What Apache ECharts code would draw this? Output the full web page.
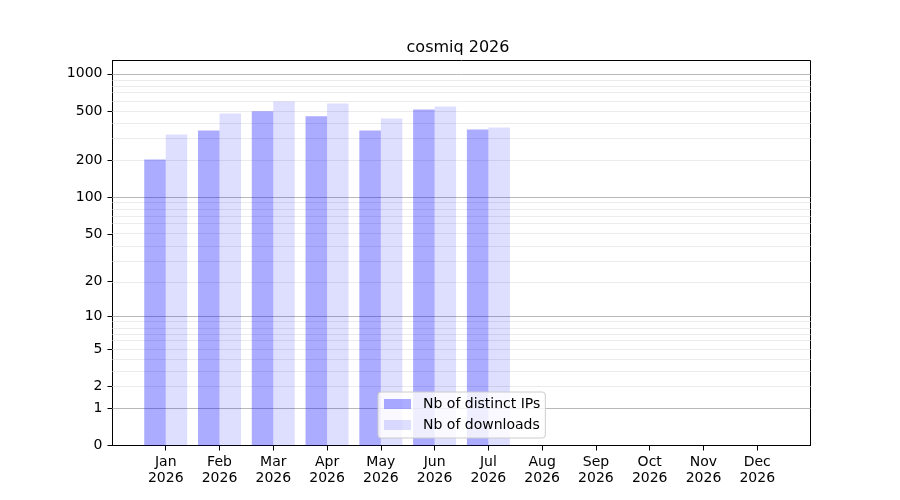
<!DOCTYPE html>
<html>
<head>
<meta charset="utf-8">
<script src="https://cdn.jsdelivr.net/npm/echarts@6/dist/echarts.min.js"></script>
<style>
  html, body { margin: 0; padding: 0; background: #fff; }
  #chart { width: 900px; height: 500px; }
</style>
</head>
<body>
<div id="chart"></div>
<script>
var months = ["Jan", "Feb", "Mar", "Apr", "May", "Jun", "Jul", "Aug", "Sep", "Oct", "Nov", "Dec"];
var year = "2026";
var distinctIps = [202, 348, 498, 454, 348, 514, 354, 0, 0, 0, 0, 0];
var downloads = [323, 477, 597, 575, 435, 544, 368, 0, 0, 0, 0, 0];
var yTicks = [0, 1, 2, 5, 10, 20, 50, 100, 200, 500, 1000];
var majorGrid = [1, 10, 100, 1000];

// y scale is log10(1 + v)
function tr(v) { return Math.log10(1 + v); }

function myChart() {
    var e = echarts.init(document.getElementById("chart"));
    var font = "DejaVu Sans";

    var gridLines = [];
    majorGrid.forEach(function (m) {
        gridLines.push({ yAxis: tr(m), lineStyle: { color: "#b8b8b8", width: 1, type: "solid" } });
        if (m < 1000) {
            for (var k = 2; k <= 9; k++) {
                gridLines.push({ yAxis: tr(k * m), lineStyle: { color: "#ebebeb", width: 1, type: "solid" } });
            }
        }
    });

    var xIdx = months.map(function (m, i) { return i; });

    var option = {
        animation: false,
        backgroundColor: "#ffffff",
        title: {
            text: "cosmiq " + year,
            left: 453,
            top: 35,
            textAlign: "center",
            textStyle: { fontFamily: font, fontSize: 16, fontWeight: "normal", color: "#000" }
        },
        legend: {
            orient: "vertical",
            left: 378,
            top: 392,
            backgroundColor: "rgba(255,255,255,0.8)",
            borderColor: "#cccccc",
            borderWidth: 1,
            borderRadius: 3,
            padding: [5, 5, 6, 6],
            itemWidth: 27,
            itemHeight: 10,
            itemGap: 7,
            icon: "rect",
            textStyle: { fontFamily: font, fontSize: 14, color: "#000", padding: [0, 0, 0, 7] },
            data: ["Nb of distinct IPs", "Nb of downloads"]
        },
        grid: {
            left: 112.5, right: 89.5, top: 60.5, bottom: 54.5,
            show: true, borderColor: "#000", borderWidth: 1,
            backgroundColor: "transparent"
        },
        xAxis: {
            type: "value",
            min: -0.99,
            max: 11.99,
            splitLine: { show: false },
            axisLine: { show: true, onZero: false, lineStyle: { color: "#000", width: 1 } },
            axisTick: {
                show: true, inside: false, length: 5,
                customValues: xIdx,
                lineStyle: { color: "#000" }
            },
            axisLabel: {
                customValues: xIdx,
                margin: 9,
                fontFamily: font, fontSize: 14, color: "#000", lineHeight: 16,
                formatter: function (v) { return months[Math.round(v)] + "\n" + year; }
            }
        },
        yAxis: {
            type: "value",
            min: 0,
            max: 3.1075,
            splitLine: { show: false },
            axisLine: { show: true, onZero: false, lineStyle: { color: "#000", width: 1 } },
            axisTick: {
                show: true, inside: false, length: 5,
                customValues: yTicks.map(tr),
                lineStyle: { color: "#000" }
            },
            axisLabel: {
                customValues: yTicks.map(tr),
                margin: 10,
                fontFamily: font, fontSize: 14, color: "#000",
                formatter: function (v) { return String(Math.round(Math.pow(10, v) - 1)); }
            }
        },
        series: [{
            name: "Nb of distinct IPs",
            type: "bar",
            barWidth: 21.5,
            barGap: "0%",
            itemStyle: { color: "rgba(0,0,255,0.33)" },
            data: distinctIps.map(function (v, i) { return [i, tr(v)]; }),
            markLine: {
                silent: true,
                z: 1,
                symbol: ["none", "none"],
                label: { show: false },
                data: gridLines
            }
        }, {
            name: "Nb of downloads",
            type: "bar",
            barWidth: 21.5,
            barGap: "0%",
            itemStyle: { color: "rgba(0,0,255,0.13)" },
            data: downloads.map(function (v, i) { return [i, tr(v)]; })
        }]
    };
    e.setOption(option);
}
myChart();
</script>
</body>
</html>
